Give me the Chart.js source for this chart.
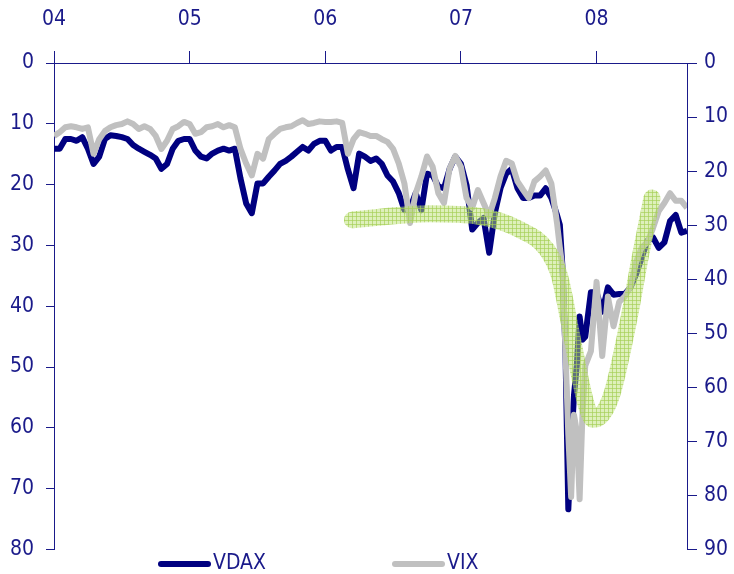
<!DOCTYPE html>
<html>
<head>
<meta charset="utf-8">
<script src="https://cdn.jsdelivr.net/npm/chart.js@4"></script>
<style>
  html, body { margin: 0; padding: 0; background: #fff; }
  #wrap { width: 734px; height: 574px; }
</style>
</head>
<body>
<div id="wrap"><canvas id="myChart" width="734" height="574"></canvas></div>
<script>
// months counted from the "04" tick (end of 2004)
let months = [
  0, 0.5, 1, 1.5, 2, 2.5, 3, 3.5, 4, 4.5, 5, 5.5, 6, 6.5, 7, 7.5, 8, 8.5, 9, 9.5, 10, 10.5, 11, 11.5,
  12, 12.5, 13, 13.5, 14, 14.5, 15, 15.5, 16, 16.5, 17, 17.5, 18, 18.5, 19, 19.5, 20, 20.5, 21, 21.5, 22, 22.5, 23, 23.5,
  24, 24.5, 25, 25.5, 26, 26.5, 27, 27.5, 28, 28.5, 29, 29.5, 30, 30.5, 31, 31.5, 32, 32.5, 33, 33.5, 34, 34.5, 35, 35.5,
  36, 36.5, 37, 37.5, 38, 38.5, 39, 39.5, 40, 40.5, 41, 41.5, 42, 42.5, 43, 43.5, 44, 44.5,
  44.75, 45, 45.25, 45.5, 45.75, 46, 46.25, 46.5, 46.75, 47, 47.5,
  48, 48.5, 49, 49.5, 50, 50.5, 51, 51.5, 52, 52.5, 53, 53.5, 54, 54.5, 55, 55.5, 56
];

let vdax = [
  14.1, 14.1, 12.5, 12.5, 12.8, 12.2, 14.1, 16.6, 15.4, 12.5, 11.9, 12.0, 12.2, 12.5, 13.5, 14.1, 14.6, 15.1, 15.7, 17.4, 16.6, 14.1, 12.8, 12.5,
  12.5, 14.4, 15.4, 15.7, 14.9, 14.4, 14.1, 14.4, 14.1, 19.0, 23.1, 24.7, 19.8, 19.8, 18.7, 17.7, 16.6, 16.1, 15.4, 14.6, 13.8, 14.4, 13.3, 12.8,
  12.8, 14.4, 13.8, 13.8, 17.5, 20.6, 14.9, 15.4, 16.1, 15.7, 16.6, 18.5, 19.5, 21.4, 24.2, 23.9, 21.4, 24.2, 18.2, 18.5, 20.3, 20.6, 17.4, 15.4,
  16.6, 20.1, 27.4, 26.3, 25.5, 31.2, 24.7, 20.6, 18.2, 17.4, 20.6, 22.2, 22.2, 21.8, 21.8, 20.6, 22.2, 25.0,
  26.6, 34.1, 47.7, 73.4, 63.3, 54.7, 49.8, 41.7, 45.5, 45.0, 37.7,
  37.7, 40.9, 36.9, 38.1, 38.0, 38.0, 36.9, 34.7, 32.0, 29.2, 28.7, 30.4, 29.5, 26.0, 25.0, 27.9, 27.6
];

let vix = [
  13.5, 12.8, 11.9, 11.7, 11.9, 12.2, 11.9, 16.8, 14.1, 12.6, 11.9, 11.5, 11.3, 10.8, 11.3, 12.2, 11.7, 12.2, 13.5, 15.9, 14.4, 12.2, 11.7, 10.9,
  11.3, 13.1, 12.8, 11.9, 11.7, 11.3, 11.9, 11.5, 11.9, 15.9, 18.6, 20.8, 16.8, 17.7, 14.1, 13.1, 12.2, 11.9, 11.7, 11.1, 10.6, 11.3, 11.1, 10.8,
  10.9, 10.9, 10.8, 11.1, 16.8, 14.1, 12.8, 13.1, 13.5, 13.5, 14.1, 14.6, 15.9, 18.6, 22.3, 29.6, 24.1, 21.0, 17.3, 19.2, 24.1, 25.9, 19.5, 17.2,
  19.2, 25.0, 26.8, 23.5, 25.9, 28.3, 25.0, 21.0, 18.1, 18.6, 21.9, 23.5, 25.0, 21.9, 21.0, 19.9, 22.3, 29.6,
  34.1, 38.3, 53.6, 68.8, 80.3, 65.1, 68.2, 80.7, 65.1, 56.0, 53.3,
  40.5, 54.2, 43.2, 48.7, 44.2, 43.2, 41.4, 36.9, 34.1, 33.2, 30.5, 27.4, 25.9, 24.1, 25.5, 25.5, 26.8
];

// green trend swoosh, on the left (VDAX) scale
let bandMonths = [26.4, 33.2, 37.6, 41.2, 43.6, 44.7, 45.6, 46.5, 47.1, 47.7, 48.5, 49.4, 50.9, 51.8, 52.9];
let bandLevels = [25.8, 24.8, 25.2, 27.4, 30.7, 34.9, 42.9, 51.5, 56.3, 58.6, 57.8, 54.2, 41.7, 32.5, 22.2];

let xTickLabels = ['04', '05', '06', '07', '08'];
let leftTicks = [0, 10, 20, 30, 40, 50, 60, 70, 80];
let rightTicks = [0, 10, 20, 30, 40, 50, 60, 70, 80, 90];

const ink = '#1a1a8a';
const fontSpec = { family: "'DejaVu Sans Condensed', 'Liberation Sans Narrow', sans-serif", size: 21 };

function hatch() {
  const c = document.createElement('canvas');
  c.width = 4; c.height = 4;
  const g = c.getContext('2d');
  g.fillStyle = 'rgba(190,225,120,0.5)';
  g.fillRect(0, 0, 4, 4);
  g.fillStyle = 'rgba(165,208,85,0.65)';
  g.fillRect(0, 0, 4, 1);
  g.fillRect(0, 0, 1, 4);
  return g.createPattern(c, 'repeat');
}

// legend drawn under the plot, VDAX first
const bottomLegend = {
  id: 'bottomLegend',
  afterDraw(chart) {
    const c = chart.ctx;
    const spots = [158, 392];
    const items = chart.data.datasets.filter(ds => ds.label).sort((a, b) => b.order - a.order);
    items.forEach((ds, i) => {
      const x = spots[i];
      const y = 564;
      c.save();
      c.strokeStyle = ds.borderColor;
      c.lineWidth = 6;
      c.lineCap = 'round';
      c.beginPath();
      c.moveTo(x + 3, y);
      c.lineTo(x + 50, y);
      c.stroke();
      c.fillStyle = ink;
      c.font = fontSpec.size + 'px ' + fontSpec.family;
      c.textBaseline = 'middle';
      c.textAlign = 'left';
      c.fillText(ds.label, x + 55, y);
      c.restore();
    });
  }
};

let ctx = document.getElementById('myChart').getContext('2d');

let myChart = new Chart(ctx, {
  type: 'line',
  data: {
    datasets: [
      {
        data: bandMonths.map((m, i) => ({ x: m, y: bandLevels[i] })),
        yAxisID: 'y',
        borderColor: hatch(),
        borderWidth: 17,
        borderCapStyle: 'round',
        cubicInterpolationMode: 'monotone',
        pointRadius: 0,
        fill: false,
        order: 0
      },
      {
        label: 'VIX',
        data: months.map((m, i) => ({ x: m, y: vix[i] })),
        yAxisID: 'y2',
        borderColor: '#c0c0c0',
        borderWidth: 6,
        borderJoinStyle: 'round',
        pointRadius: 0,
        tension: 0,
        order: 1
      },
      {
        label: 'VDAX',
        data: months.map((m, i) => ({ x: m, y: vdax[i] })),
        yAxisID: 'y',
        borderColor: '#000080',
        borderWidth: 6,
        borderJoinStyle: 'round',
        pointRadius: 0,
        tension: 0,
        order: 2
      }
    ]
  },
  options: {
    responsive: false,
    animation: false,
    layout: { padding: { left: 0, right: 0, top: 0, bottom: 18 } },
    plugins: {
      legend: { display: false },
      tooltip: { enabled: false }
    },
    scales: {
      x: {
        type: 'linear',
        position: 'top',
        min: 0,
        max: 56,
        afterBuildTicks: s => { s.ticks = xTickLabels.map((_, i) => ({ value: i * 12 })); },
        afterFit: s => { s.height = 63; },
        ticks: {
          color: ink,
          font: fontSpec,
          padding: 19,
          maxRotation: 0,
          callback: v => xTickLabels[v / 12]
        },
        grid: { drawOnChartArea: false, color: ink, tickLength: 12 },
        border: { color: ink, width: 1 }
      },
      y: {
        position: 'left',
        reverse: true,
        min: 0,
        max: 80,
        afterBuildTicks: s => { s.ticks = leftTicks.map(v => ({ value: v })); },
        afterFit: s => { s.width = 54; },
        ticks: { color: ink, font: fontSpec, padding: 12 },
        grid: { drawOnChartArea: false, color: ink, tickLength: 8 },
        border: { color: ink, width: 1 }
      },
      y2: {
        position: 'right',
        reverse: true,
        min: 0,
        max: 90,
        afterBuildTicks: s => { s.ticks = rightTicks.map(v => ({ value: v })); },
        afterFit: s => { s.width = 47; },
        ticks: { color: ink, font: fontSpec, padding: 7 },
        grid: { drawOnChartArea: false, color: ink, tickLength: 10 },
        border: { color: ink, width: 1 }
      }
    }
  },
  plugins: [bottomLegend]
});
</script>
</body>
</html>
